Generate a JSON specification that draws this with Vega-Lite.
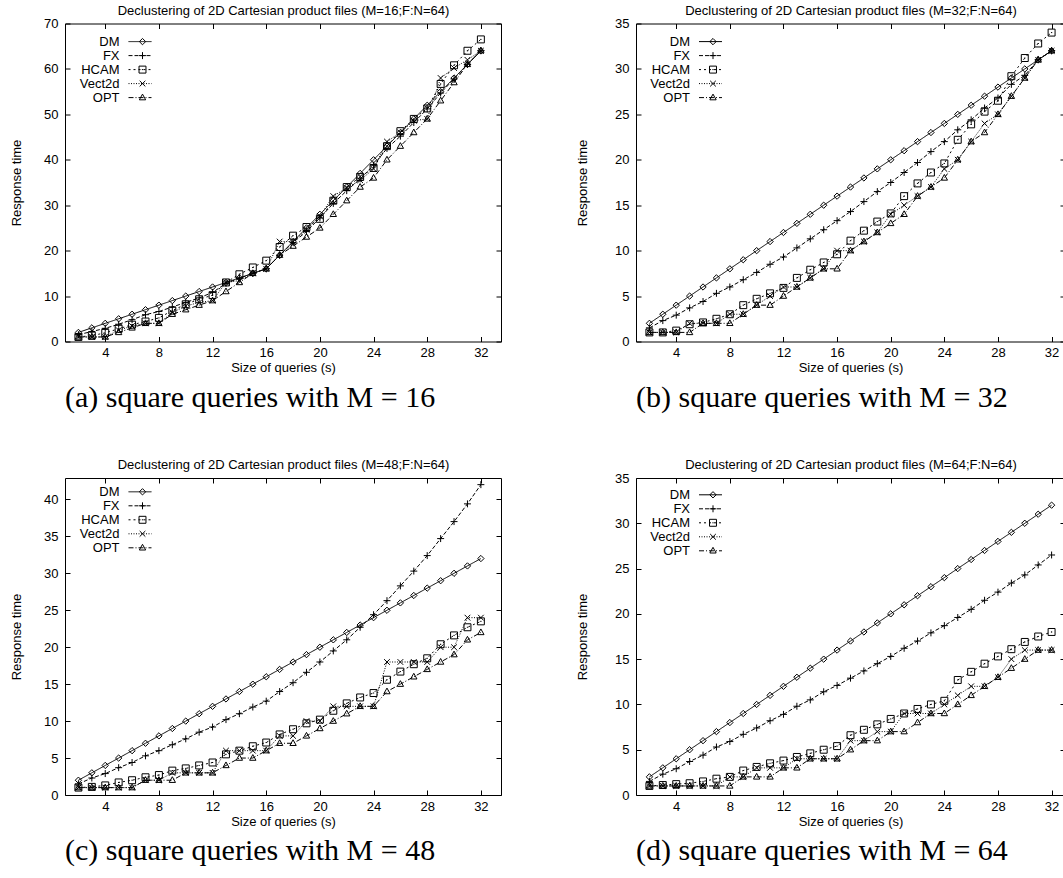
{
"$schema": "https://vega.github.io/schema/vega-lite/v6.json",
"background": "white",
"padding": {"left": 9, "top": 3.5, "right": 0, "bottom": 0},
"datasets": {
"a": [
{"s":2,"g":"DM","t":2},{"s":3,"g":"DM","t":3},{"s":4,"g":"DM","t":4},{"s":5,"g":"DM","t":5},{"s":6,"g":"DM","t":6},{"s":7,"g":"DM","t":7},{"s":8,"g":"DM","t":8},{"s":9,"g":"DM","t":9},{"s":10,"g":"DM","t":10},{"s":11,"g":"DM","t":11},{"s":12,"g":"DM","t":12},{"s":13,"g":"DM","t":13},{"s":14,"g":"DM","t":14},{"s":15,"g":"DM","t":15},{"s":16,"g":"DM","t":16},{"s":17,"g":"DM","t":19},{"s":18,"g":"DM","t":22},{"s":19,"g":"DM","t":25},{"s":20,"g":"DM","t":28},{"s":21,"g":"DM","t":31},{"s":22,"g":"DM","t":34},{"s":23,"g":"DM","t":37},{"s":24,"g":"DM","t":40},{"s":25,"g":"DM","t":43},{"s":26,"g":"DM","t":46},{"s":27,"g":"DM","t":49},{"s":28,"g":"DM","t":52},{"s":29,"g":"DM","t":55},{"s":30,"g":"DM","t":58},{"s":31,"g":"DM","t":61},{"s":32,"g":"DM","t":64},
{"s":2,"g":"FX","t":1.5},{"s":3,"g":"FX","t":2.2},{"s":4,"g":"FX","t":2.9},{"s":5,"g":"FX","t":3.8},{"s":6,"g":"FX","t":4.8},{"s":7,"g":"FX","t":5.9},{"s":8,"g":"FX","t":6.6},{"s":9,"g":"FX","t":7.6},{"s":10,"g":"FX","t":8.6},{"s":11,"g":"FX","t":9.6},{"s":12,"g":"FX","t":10.8},{"s":13,"g":"FX","t":12.8},{"s":14,"g":"FX","t":13.9},{"s":15,"g":"FX","t":15},{"s":16,"g":"FX","t":16},{"s":17,"g":"FX","t":19},{"s":18,"g":"FX","t":21.8},{"s":19,"g":"FX","t":24.2},{"s":20,"g":"FX","t":27.2},{"s":21,"g":"FX","t":30.4},{"s":22,"g":"FX","t":33.2},{"s":23,"g":"FX","t":35.8},{"s":24,"g":"FX","t":38.8},{"s":25,"g":"FX","t":42.5},{"s":26,"g":"FX","t":45.2},{"s":27,"g":"FX","t":48.2},{"s":28,"g":"FX","t":51.2},{"s":29,"g":"FX","t":54.7},{"s":30,"g":"FX","t":57.8},{"s":31,"g":"FX","t":61},{"s":32,"g":"FX","t":64},
{"s":2,"g":"HCAM","t":1},{"s":3,"g":"HCAM","t":1.3},{"s":4,"g":"HCAM","t":1.9},{"s":5,"g":"HCAM","t":2.8},{"s":6,"g":"HCAM","t":3.7},{"s":7,"g":"HCAM","t":4.4},{"s":8,"g":"HCAM","t":5.2},{"s":9,"g":"HCAM","t":6.8},{"s":10,"g":"HCAM","t":8.2},{"s":11,"g":"HCAM","t":9.3},{"s":12,"g":"HCAM","t":10.2},{"s":13,"g":"HCAM","t":13},{"s":14,"g":"HCAM","t":14.8},{"s":15,"g":"HCAM","t":16.3},{"s":16,"g":"HCAM","t":17.8},{"s":17,"g":"HCAM","t":20.8},{"s":18,"g":"HCAM","t":23.3},{"s":19,"g":"HCAM","t":25.2},{"s":20,"g":"HCAM","t":27},{"s":21,"g":"HCAM","t":31},{"s":22,"g":"HCAM","t":34},{"s":23,"g":"HCAM","t":36.2},{"s":24,"g":"HCAM","t":38.2},{"s":25,"g":"HCAM","t":43},{"s":26,"g":"HCAM","t":46.3},{"s":27,"g":"HCAM","t":49},{"s":28,"g":"HCAM","t":51.3},{"s":29,"g":"HCAM","t":56.7},{"s":30,"g":"HCAM","t":60.8},{"s":31,"g":"HCAM","t":64},{"s":32,"g":"HCAM","t":66.5},
{"s":2,"g":"Vect2d","t":1},{"s":3,"g":"Vect2d","t":1},{"s":4,"g":"Vect2d","t":1},{"s":5,"g":"Vect2d","t":2.5},{"s":6,"g":"Vect2d","t":3.4},{"s":7,"g":"Vect2d","t":4},{"s":8,"g":"Vect2d","t":4},{"s":9,"g":"Vect2d","t":6.4},{"s":10,"g":"Vect2d","t":7.8},{"s":11,"g":"Vect2d","t":8.6},{"s":12,"g":"Vect2d","t":9},{"s":13,"g":"Vect2d","t":13},{"s":14,"g":"Vect2d","t":13.4},{"s":15,"g":"Vect2d","t":15},{"s":16,"g":"Vect2d","t":16},{"s":17,"g":"Vect2d","t":22},{"s":18,"g":"Vect2d","t":22},{"s":19,"g":"Vect2d","t":24.6},{"s":20,"g":"Vect2d","t":27.6},{"s":21,"g":"Vect2d","t":32},{"s":22,"g":"Vect2d","t":33.8},{"s":23,"g":"Vect2d","t":35.5},{"s":24,"g":"Vect2d","t":38},{"s":25,"g":"Vect2d","t":44},{"s":26,"g":"Vect2d","t":46},{"s":27,"g":"Vect2d","t":48.6},{"s":28,"g":"Vect2d","t":49},{"s":29,"g":"Vect2d","t":58},{"s":30,"g":"Vect2d","t":60.2},{"s":31,"g":"Vect2d","t":62},{"s":32,"g":"Vect2d","t":64},
{"s":2,"g":"OPT","t":1},{"s":3,"g":"OPT","t":1},{"s":4,"g":"OPT","t":1},{"s":5,"g":"OPT","t":2},{"s":6,"g":"OPT","t":3},{"s":7,"g":"OPT","t":4},{"s":8,"g":"OPT","t":4},{"s":9,"g":"OPT","t":6},{"s":10,"g":"OPT","t":7},{"s":11,"g":"OPT","t":8},{"s":12,"g":"OPT","t":9},{"s":13,"g":"OPT","t":11},{"s":14,"g":"OPT","t":13},{"s":15,"g":"OPT","t":15},{"s":16,"g":"OPT","t":16},{"s":17,"g":"OPT","t":19},{"s":18,"g":"OPT","t":21},{"s":19,"g":"OPT","t":23},{"s":20,"g":"OPT","t":25},{"s":21,"g":"OPT","t":28},{"s":22,"g":"OPT","t":31},{"s":23,"g":"OPT","t":34},{"s":24,"g":"OPT","t":36},{"s":25,"g":"OPT","t":40},{"s":26,"g":"OPT","t":43},{"s":27,"g":"OPT","t":46},{"s":28,"g":"OPT","t":49},{"s":29,"g":"OPT","t":53},{"s":30,"g":"OPT","t":57},{"s":31,"g":"OPT","t":61},{"s":32,"g":"OPT","t":64}
],
"b": [
{"s":2,"g":"DM","t":2},{"s":3,"g":"DM","t":3},{"s":4,"g":"DM","t":4},{"s":5,"g":"DM","t":5},{"s":6,"g":"DM","t":6},{"s":7,"g":"DM","t":7},{"s":8,"g":"DM","t":8},{"s":9,"g":"DM","t":9},{"s":10,"g":"DM","t":10},{"s":11,"g":"DM","t":11},{"s":12,"g":"DM","t":12},{"s":13,"g":"DM","t":13},{"s":14,"g":"DM","t":14},{"s":15,"g":"DM","t":15},{"s":16,"g":"DM","t":16},{"s":17,"g":"DM","t":17},{"s":18,"g":"DM","t":18},{"s":19,"g":"DM","t":19},{"s":20,"g":"DM","t":20},{"s":21,"g":"DM","t":21},{"s":22,"g":"DM","t":22},{"s":23,"g":"DM","t":23},{"s":24,"g":"DM","t":24},{"s":25,"g":"DM","t":25},{"s":26,"g":"DM","t":26},{"s":27,"g":"DM","t":27},{"s":28,"g":"DM","t":28},{"s":29,"g":"DM","t":29},{"s":30,"g":"DM","t":30},{"s":31,"g":"DM","t":31},{"s":32,"g":"DM","t":32},
{"s":2,"g":"FX","t":1.5},{"s":3,"g":"FX","t":2.3},{"s":4,"g":"FX","t":2.9},{"s":5,"g":"FX","t":3.7},{"s":6,"g":"FX","t":4.4},{"s":7,"g":"FX","t":5.3},{"s":8,"g":"FX","t":6},{"s":9,"g":"FX","t":6.8},{"s":10,"g":"FX","t":7.6},{"s":11,"g":"FX","t":8.5},{"s":12,"g":"FX","t":9.3},{"s":13,"g":"FX","t":10.3},{"s":14,"g":"FX","t":11.3},{"s":15,"g":"FX","t":12.3},{"s":16,"g":"FX","t":13.3},{"s":17,"g":"FX","t":14.3},{"s":18,"g":"FX","t":15.4},{"s":19,"g":"FX","t":16.5},{"s":20,"g":"FX","t":17.5},{"s":21,"g":"FX","t":18.6},{"s":22,"g":"FX","t":19.7},{"s":23,"g":"FX","t":20.9},{"s":24,"g":"FX","t":22},{"s":25,"g":"FX","t":23.3},{"s":26,"g":"FX","t":24.4},{"s":27,"g":"FX","t":25.7},{"s":28,"g":"FX","t":26.8},{"s":29,"g":"FX","t":28.3},{"s":30,"g":"FX","t":29.3},{"s":31,"g":"FX","t":31},{"s":32,"g":"FX","t":32},
{"s":2,"g":"HCAM","t":1},{"s":3,"g":"HCAM","t":1},{"s":4,"g":"HCAM","t":1.2},{"s":5,"g":"HCAM","t":1.9},{"s":6,"g":"HCAM","t":2.1},{"s":7,"g":"HCAM","t":2.5},{"s":8,"g":"HCAM","t":3},{"s":9,"g":"HCAM","t":4},{"s":10,"g":"HCAM","t":4.7},{"s":11,"g":"HCAM","t":5.3},{"s":12,"g":"HCAM","t":5.9},{"s":13,"g":"HCAM","t":7},{"s":14,"g":"HCAM","t":7.9},{"s":15,"g":"HCAM","t":8.7},{"s":16,"g":"HCAM","t":9.6},{"s":17,"g":"HCAM","t":11.1},{"s":18,"g":"HCAM","t":12.2},{"s":19,"g":"HCAM","t":13.2},{"s":20,"g":"HCAM","t":14.1},{"s":21,"g":"HCAM","t":16},{"s":22,"g":"HCAM","t":17.4},{"s":23,"g":"HCAM","t":18.6},{"s":24,"g":"HCAM","t":19.6},{"s":25,"g":"HCAM","t":22.2},{"s":26,"g":"HCAM","t":23.9},{"s":27,"g":"HCAM","t":25.3},{"s":28,"g":"HCAM","t":26.5},{"s":29,"g":"HCAM","t":29.2},{"s":30,"g":"HCAM","t":31.2},{"s":31,"g":"HCAM","t":32.8},{"s":32,"g":"HCAM","t":34},
{"s":2,"g":"Vect2d","t":1},{"s":3,"g":"Vect2d","t":1},{"s":4,"g":"Vect2d","t":1},{"s":5,"g":"Vect2d","t":2},{"s":6,"g":"Vect2d","t":2},{"s":7,"g":"Vect2d","t":2},{"s":8,"g":"Vect2d","t":3},{"s":9,"g":"Vect2d","t":3},{"s":10,"g":"Vect2d","t":4},{"s":11,"g":"Vect2d","t":5},{"s":12,"g":"Vect2d","t":6},{"s":13,"g":"Vect2d","t":6},{"s":14,"g":"Vect2d","t":7},{"s":15,"g":"Vect2d","t":8},{"s":16,"g":"Vect2d","t":10},{"s":17,"g":"Vect2d","t":10},{"s":18,"g":"Vect2d","t":11},{"s":19,"g":"Vect2d","t":12},{"s":20,"g":"Vect2d","t":14},{"s":21,"g":"Vect2d","t":15},{"s":22,"g":"Vect2d","t":16},{"s":23,"g":"Vect2d","t":17},{"s":24,"g":"Vect2d","t":19},{"s":25,"g":"Vect2d","t":20},{"s":26,"g":"Vect2d","t":22},{"s":27,"g":"Vect2d","t":24},{"s":28,"g":"Vect2d","t":25},{"s":29,"g":"Vect2d","t":27},{"s":30,"g":"Vect2d","t":29},{"s":31,"g":"Vect2d","t":31},{"s":32,"g":"Vect2d","t":32},
{"s":2,"g":"OPT","t":1},{"s":3,"g":"OPT","t":1},{"s":4,"g":"OPT","t":1},{"s":5,"g":"OPT","t":1},{"s":6,"g":"OPT","t":2},{"s":7,"g":"OPT","t":2},{"s":8,"g":"OPT","t":2},{"s":9,"g":"OPT","t":3},{"s":10,"g":"OPT","t":4},{"s":11,"g":"OPT","t":4},{"s":12,"g":"OPT","t":5},{"s":13,"g":"OPT","t":6},{"s":14,"g":"OPT","t":7},{"s":15,"g":"OPT","t":8},{"s":16,"g":"OPT","t":8},{"s":17,"g":"OPT","t":10},{"s":18,"g":"OPT","t":11},{"s":19,"g":"OPT","t":12},{"s":20,"g":"OPT","t":13},{"s":21,"g":"OPT","t":14},{"s":22,"g":"OPT","t":16},{"s":23,"g":"OPT","t":17},{"s":24,"g":"OPT","t":18},{"s":25,"g":"OPT","t":20},{"s":26,"g":"OPT","t":22},{"s":27,"g":"OPT","t":23},{"s":28,"g":"OPT","t":25},{"s":29,"g":"OPT","t":27},{"s":30,"g":"OPT","t":29},{"s":31,"g":"OPT","t":31},{"s":32,"g":"OPT","t":32}
],
"c": [
{"s":2,"g":"DM","t":2},{"s":3,"g":"DM","t":3},{"s":4,"g":"DM","t":4},{"s":5,"g":"DM","t":5},{"s":6,"g":"DM","t":6},{"s":7,"g":"DM","t":7},{"s":8,"g":"DM","t":8},{"s":9,"g":"DM","t":9},{"s":10,"g":"DM","t":10},{"s":11,"g":"DM","t":11},{"s":12,"g":"DM","t":12},{"s":13,"g":"DM","t":13},{"s":14,"g":"DM","t":14},{"s":15,"g":"DM","t":15},{"s":16,"g":"DM","t":16},{"s":17,"g":"DM","t":17},{"s":18,"g":"DM","t":18},{"s":19,"g":"DM","t":19},{"s":20,"g":"DM","t":20},{"s":21,"g":"DM","t":21},{"s":22,"g":"DM","t":22},{"s":23,"g":"DM","t":23},{"s":24,"g":"DM","t":24},{"s":25,"g":"DM","t":25},{"s":26,"g":"DM","t":26},{"s":27,"g":"DM","t":27},{"s":28,"g":"DM","t":28},{"s":29,"g":"DM","t":29},{"s":30,"g":"DM","t":30},{"s":31,"g":"DM","t":31},{"s":32,"g":"DM","t":32},
{"s":2,"g":"FX","t":1.5},{"s":3,"g":"FX","t":2.3},{"s":4,"g":"FX","t":2.9},{"s":5,"g":"FX","t":3.7},{"s":6,"g":"FX","t":4.4},{"s":7,"g":"FX","t":5.3},{"s":8,"g":"FX","t":6},{"s":9,"g":"FX","t":6.8},{"s":10,"g":"FX","t":7.6},{"s":11,"g":"FX","t":8.5},{"s":12,"g":"FX","t":9.2},{"s":13,"g":"FX","t":10.2},{"s":14,"g":"FX","t":11},{"s":15,"g":"FX","t":11.9},{"s":16,"g":"FX","t":12.7},{"s":17,"g":"FX","t":14},{"s":18,"g":"FX","t":15.2},{"s":19,"g":"FX","t":16.6},{"s":20,"g":"FX","t":18},{"s":21,"g":"FX","t":19.5},{"s":22,"g":"FX","t":21},{"s":23,"g":"FX","t":22.7},{"s":24,"g":"FX","t":24.4},{"s":25,"g":"FX","t":26.3},{"s":26,"g":"FX","t":28.3},{"s":27,"g":"FX","t":30.3},{"s":28,"g":"FX","t":32.4},{"s":29,"g":"FX","t":34.7},{"s":30,"g":"FX","t":37},{"s":31,"g":"FX","t":39.4},{"s":32,"g":"FX","t":42},
{"s":2,"g":"HCAM","t":1},{"s":3,"g":"HCAM","t":1.1},{"s":4,"g":"HCAM","t":1.3},{"s":5,"g":"HCAM","t":1.7},{"s":6,"g":"HCAM","t":2},{"s":7,"g":"HCAM","t":2.4},{"s":8,"g":"HCAM","t":2.7},{"s":9,"g":"HCAM","t":3.3},{"s":10,"g":"HCAM","t":3.6},{"s":11,"g":"HCAM","t":4},{"s":12,"g":"HCAM","t":4.4},{"s":13,"g":"HCAM","t":5.5},{"s":14,"g":"HCAM","t":6},{"s":15,"g":"HCAM","t":6.6},{"s":16,"g":"HCAM","t":7.1},{"s":17,"g":"HCAM","t":8.2},{"s":18,"g":"HCAM","t":8.9},{"s":19,"g":"HCAM","t":9.7},{"s":20,"g":"HCAM","t":10.2},{"s":21,"g":"HCAM","t":11.4},{"s":22,"g":"HCAM","t":12.4},{"s":23,"g":"HCAM","t":13.2},{"s":24,"g":"HCAM","t":13.8},{"s":25,"g":"HCAM","t":15.6},{"s":26,"g":"HCAM","t":16.7},{"s":27,"g":"HCAM","t":17.7},{"s":28,"g":"HCAM","t":18.5},{"s":29,"g":"HCAM","t":20.4},{"s":30,"g":"HCAM","t":21.6},{"s":31,"g":"HCAM","t":22.7},{"s":32,"g":"HCAM","t":23.5},
{"s":2,"g":"Vect2d","t":1},{"s":3,"g":"Vect2d","t":1},{"s":4,"g":"Vect2d","t":1},{"s":5,"g":"Vect2d","t":1},{"s":6,"g":"Vect2d","t":1},{"s":7,"g":"Vect2d","t":2},{"s":8,"g":"Vect2d","t":2},{"s":9,"g":"Vect2d","t":3},{"s":10,"g":"Vect2d","t":3},{"s":11,"g":"Vect2d","t":3},{"s":12,"g":"Vect2d","t":3},{"s":13,"g":"Vect2d","t":6},{"s":14,"g":"Vect2d","t":6},{"s":15,"g":"Vect2d","t":6},{"s":16,"g":"Vect2d","t":6},{"s":17,"g":"Vect2d","t":8},{"s":18,"g":"Vect2d","t":8},{"s":19,"g":"Vect2d","t":10},{"s":20,"g":"Vect2d","t":10},{"s":21,"g":"Vect2d","t":12},{"s":22,"g":"Vect2d","t":12},{"s":23,"g":"Vect2d","t":12},{"s":24,"g":"Vect2d","t":12},{"s":25,"g":"Vect2d","t":18},{"s":26,"g":"Vect2d","t":18},{"s":27,"g":"Vect2d","t":18},{"s":28,"g":"Vect2d","t":18},{"s":29,"g":"Vect2d","t":20},{"s":30,"g":"Vect2d","t":20},{"s":31,"g":"Vect2d","t":24},{"s":32,"g":"Vect2d","t":24},
{"s":2,"g":"OPT","t":1},{"s":3,"g":"OPT","t":1},{"s":4,"g":"OPT","t":1},{"s":5,"g":"OPT","t":1},{"s":6,"g":"OPT","t":1},{"s":7,"g":"OPT","t":2},{"s":8,"g":"OPT","t":2},{"s":9,"g":"OPT","t":2},{"s":10,"g":"OPT","t":3},{"s":11,"g":"OPT","t":3},{"s":12,"g":"OPT","t":3},{"s":13,"g":"OPT","t":4},{"s":14,"g":"OPT","t":5},{"s":15,"g":"OPT","t":5},{"s":16,"g":"OPT","t":6},{"s":17,"g":"OPT","t":7},{"s":18,"g":"OPT","t":7},{"s":19,"g":"OPT","t":8},{"s":20,"g":"OPT","t":9},{"s":21,"g":"OPT","t":10},{"s":22,"g":"OPT","t":11},{"s":23,"g":"OPT","t":12},{"s":24,"g":"OPT","t":12},{"s":25,"g":"OPT","t":14},{"s":26,"g":"OPT","t":15},{"s":27,"g":"OPT","t":16},{"s":28,"g":"OPT","t":17},{"s":29,"g":"OPT","t":18},{"s":30,"g":"OPT","t":19},{"s":31,"g":"OPT","t":21},{"s":32,"g":"OPT","t":22}
],
"d": [
{"s":2,"g":"DM","t":2},{"s":3,"g":"DM","t":3},{"s":4,"g":"DM","t":4},{"s":5,"g":"DM","t":5},{"s":6,"g":"DM","t":6},{"s":7,"g":"DM","t":7},{"s":8,"g":"DM","t":8},{"s":9,"g":"DM","t":9},{"s":10,"g":"DM","t":10},{"s":11,"g":"DM","t":11},{"s":12,"g":"DM","t":12},{"s":13,"g":"DM","t":13},{"s":14,"g":"DM","t":14},{"s":15,"g":"DM","t":15},{"s":16,"g":"DM","t":16},{"s":17,"g":"DM","t":17},{"s":18,"g":"DM","t":18},{"s":19,"g":"DM","t":19},{"s":20,"g":"DM","t":20},{"s":21,"g":"DM","t":21},{"s":22,"g":"DM","t":22},{"s":23,"g":"DM","t":23},{"s":24,"g":"DM","t":24},{"s":25,"g":"DM","t":25},{"s":26,"g":"DM","t":26},{"s":27,"g":"DM","t":27},{"s":28,"g":"DM","t":28},{"s":29,"g":"DM","t":29},{"s":30,"g":"DM","t":30},{"s":31,"g":"DM","t":31},{"s":32,"g":"DM","t":32},
{"s":2,"g":"FX","t":1.5},{"s":3,"g":"FX","t":2.3},{"s":4,"g":"FX","t":2.9},{"s":5,"g":"FX","t":3.7},{"s":6,"g":"FX","t":4.4},{"s":7,"g":"FX","t":5.3},{"s":8,"g":"FX","t":5.9},{"s":9,"g":"FX","t":6.7},{"s":10,"g":"FX","t":7.4},{"s":11,"g":"FX","t":8.2},{"s":12,"g":"FX","t":8.9},{"s":13,"g":"FX","t":9.8},{"s":14,"g":"FX","t":10.5},{"s":15,"g":"FX","t":11.4},{"s":16,"g":"FX","t":12.1},{"s":17,"g":"FX","t":12.9},{"s":18,"g":"FX","t":13.7},{"s":19,"g":"FX","t":14.5},{"s":20,"g":"FX","t":15.3},{"s":21,"g":"FX","t":16.2},{"s":22,"g":"FX","t":17},{"s":23,"g":"FX","t":17.9},{"s":24,"g":"FX","t":18.7},{"s":25,"g":"FX","t":19.6},{"s":26,"g":"FX","t":20.5},{"s":27,"g":"FX","t":21.5},{"s":28,"g":"FX","t":22.4},{"s":29,"g":"FX","t":23.4},{"s":30,"g":"FX","t":24.3},{"s":31,"g":"FX","t":25.4},{"s":32,"g":"FX","t":26.5},
{"s":2,"g":"HCAM","t":1},{"s":3,"g":"HCAM","t":1.1},{"s":4,"g":"HCAM","t":1.2},{"s":5,"g":"HCAM","t":1.3},{"s":6,"g":"HCAM","t":1.5},{"s":7,"g":"HCAM","t":1.8},{"s":8,"g":"HCAM","t":2},{"s":9,"g":"HCAM","t":2.7},{"s":10,"g":"HCAM","t":3.1},{"s":11,"g":"HCAM","t":3.5},{"s":12,"g":"HCAM","t":3.8},{"s":13,"g":"HCAM","t":4.2},{"s":14,"g":"HCAM","t":4.6},{"s":15,"g":"HCAM","t":5},{"s":16,"g":"HCAM","t":5.4},{"s":17,"g":"HCAM","t":6.6},{"s":18,"g":"HCAM","t":7.2},{"s":19,"g":"HCAM","t":7.8},{"s":20,"g":"HCAM","t":8.4},{"s":21,"g":"HCAM","t":9},{"s":22,"g":"HCAM","t":9.5},{"s":23,"g":"HCAM","t":10},{"s":24,"g":"HCAM","t":10.4},{"s":25,"g":"HCAM","t":12.7},{"s":26,"g":"HCAM","t":13.6},{"s":27,"g":"HCAM","t":14.5},{"s":28,"g":"HCAM","t":15.3},{"s":29,"g":"HCAM","t":16.1},{"s":30,"g":"HCAM","t":16.9},{"s":31,"g":"HCAM","t":17.5},{"s":32,"g":"HCAM","t":18},
{"s":2,"g":"Vect2d","t":1},{"s":3,"g":"Vect2d","t":1},{"s":4,"g":"Vect2d","t":1},{"s":5,"g":"Vect2d","t":1},{"s":6,"g":"Vect2d","t":1},{"s":7,"g":"Vect2d","t":1},{"s":8,"g":"Vect2d","t":2},{"s":9,"g":"Vect2d","t":2},{"s":10,"g":"Vect2d","t":3},{"s":11,"g":"Vect2d","t":3},{"s":12,"g":"Vect2d","t":3},{"s":13,"g":"Vect2d","t":4},{"s":14,"g":"Vect2d","t":4},{"s":15,"g":"Vect2d","t":4},{"s":16,"g":"Vect2d","t":4},{"s":17,"g":"Vect2d","t":6},{"s":18,"g":"Vect2d","t":6},{"s":19,"g":"Vect2d","t":7},{"s":20,"g":"Vect2d","t":7},{"s":21,"g":"Vect2d","t":9},{"s":22,"g":"Vect2d","t":9},{"s":23,"g":"Vect2d","t":9},{"s":24,"g":"Vect2d","t":10},{"s":25,"g":"Vect2d","t":11},{"s":26,"g":"Vect2d","t":12},{"s":27,"g":"Vect2d","t":12},{"s":28,"g":"Vect2d","t":13},{"s":29,"g":"Vect2d","t":15},{"s":30,"g":"Vect2d","t":16},{"s":31,"g":"Vect2d","t":16},{"s":32,"g":"Vect2d","t":16},
{"s":2,"g":"OPT","t":1},{"s":3,"g":"OPT","t":1},{"s":4,"g":"OPT","t":1},{"s":5,"g":"OPT","t":1},{"s":6,"g":"OPT","t":1},{"s":7,"g":"OPT","t":1},{"s":8,"g":"OPT","t":1},{"s":9,"g":"OPT","t":2},{"s":10,"g":"OPT","t":2},{"s":11,"g":"OPT","t":2},{"s":12,"g":"OPT","t":3},{"s":13,"g":"OPT","t":3},{"s":14,"g":"OPT","t":4},{"s":15,"g":"OPT","t":4},{"s":16,"g":"OPT","t":4},{"s":17,"g":"OPT","t":5},{"s":18,"g":"OPT","t":6},{"s":19,"g":"OPT","t":6},{"s":20,"g":"OPT","t":7},{"s":21,"g":"OPT","t":7},{"s":22,"g":"OPT","t":8},{"s":23,"g":"OPT","t":9},{"s":24,"g":"OPT","t":9},{"s":25,"g":"OPT","t":10},{"s":26,"g":"OPT","t":11},{"s":27,"g":"OPT","t":12},{"s":28,"g":"OPT","t":13},{"s":29,"g":"OPT","t":14},{"s":30,"g":"OPT","t":15},{"s":31,"g":"OPT","t":16},{"s":32,"g":"OPT","t":16}
]
},
"vconcat": [
{"hconcat": [
{"width": 436, "height": 318, "data": {"name": "a"},
 "title": {"text": "(a) square queries with M = 16", "orient": "bottom", "anchor": "start", "frame": "group", "offset": 8},
 "layer": [
  {"mark": {"type": "line", "color": "#000", "strokeWidth": 1},
   "encoding": {
    "x": {"field": "s", "type": "quantitative", "scale": {"domain": [1, 33.5], "nice": false, "zero": false}, "axis": {"orient": "bottom", "values": [4,8,12,16,20,24,28,32], "labelPadding": 10, "title": "Size of queries (s)", "titlePadding": 2}},
    "y": {"field": "t", "type": "quantitative", "scale": {"domain": [0, 70], "nice": false, "zero": false}, "axis": {"orient": "left", "values": [0,10,20,30,40,50,60,70], "labelPadding": 12, "title": "Response time", "titlePadding": 20.5}},
    "strokeDash": {"field": "g", "type": "nominal", "scale": {"domain": ["DM","FX","HCAM","Vect2d","OPT"], "range": [[1,0],[4,2],[2,3],[1,1.5],[5,2,1,2]]},
      "legend": {"orient": "none", "legendX": 68.5, "legendY": 11.6, "title": null, "symbolType": "M-2,0L2,0", "symbolSize": 132, "symbolStrokeWidth": 1, "symbolStrokeColor": "#000", "labelAlign": "right", "labelOffset": -27}}
   }},
  {"mark": {"type": "point", "filled": false, "color": "#000", "strokeWidth": 1, "opacity": 1, "size": 40},
   "encoding": {
    "x": {"field": "s", "type": "quantitative", "axis": {"orient": "top", "values": [4,8,12,16,20,24,28,32], "labels": false, "title": "Declustering of 2D Cartesian product files (M=16;F:N=64)", "titlePadding": 6}},
    "y": {"field": "t", "type": "quantitative", "axis": {"orient": "right", "values": [0,10,20,30,40,50,60,70], "labels": false, "title": null}},
    "shape": {"field": "g", "type": "nominal", "scale": {"domain": ["DM","FX","HCAM","Vect2d","OPT","-"], "range": ["M-1,0L0,-1L1,0L0,1Z","M-1.1,0L1.1,0M0,-1.1L0,1.1","M-1.1,-1.1L1.1,-1.1L1.1,1.1L-1.1,1.1ZM-0.2,0L0.2,0","M-0.9,-0.9L0.9,0.9M-0.9,0.9L0.9,-0.9","M0,-1.1L1,0.7L-1,0.7Z","circle"]},
      "legend": {"orient": "none", "legendX": 71, "legendY": 11.6, "title": null, "values": ["DM","FX","HCAM","Vect2d","OPT"], "symbolSize": 40, "symbolStrokeWidth": 1, "symbolStrokeColor": "#000", "symbolFillColor": "transparent", "labelOpacity": 0}}
   }}
 ],
 "resolve": {"axis": {"x": "independent", "y": "independent"}}
},
{"width": 429, "height": 318, "data": {"name": "b"},
 "title": {"text": "(b) square queries with M = 32", "orient": "bottom", "anchor": "start", "frame": "group", "offset": 8},
 "layer": [
  {"mark": {"type": "line", "color": "#000", "strokeWidth": 1},
   "encoding": {
    "x": {"field": "s", "type": "quantitative", "scale": {"domain": [1, 33], "nice": false, "zero": false}, "axis": {"orient": "bottom", "values": [4,8,12,16,20,24,28,32], "labelPadding": 10, "title": "Size of queries (s)", "titlePadding": 2}},
    "y": {"field": "t", "type": "quantitative", "scale": {"domain": [0, 35], "nice": false, "zero": false}, "axis": {"orient": "left", "values": [0,5,10,15,20,25,30,35], "labelPadding": 12, "title": "Response time", "titlePadding": 25}},
    "strokeDash": {"field": "g", "type": "nominal", "scale": {"domain": ["DM","FX","HCAM","Vect2d","OPT"], "range": [[1,0],[4,2],[2,3],[1,1.5],[5,2,1,2]]},
      "legend": {"orient": "none", "legendX": 68, "legendY": 11.6, "title": null, "symbolType": "M-2,0L2,0", "symbolSize": 132, "symbolStrokeWidth": 1, "symbolStrokeColor": "#000", "labelAlign": "right", "labelOffset": -27}}
   }},
  {"mark": {"type": "point", "filled": false, "color": "#000", "strokeWidth": 1, "opacity": 1, "size": 40},
   "encoding": {
    "x": {"field": "s", "type": "quantitative", "axis": {"orient": "top", "values": [4,8,12,16,20,24,28,32], "labels": false, "title": "Declustering of 2D Cartesian product files (M=32;F:N=64)", "titlePadding": 6}},
    "y": {"field": "t", "type": "quantitative", "axis": {"orient": "right", "values": [0,5,10,15,20,25,30,35], "labels": false, "title": null}},
    "shape": {"field": "g", "type": "nominal", "scale": {"domain": ["DM","FX","HCAM","Vect2d","OPT","-"], "range": ["M-1,0L0,-1L1,0L0,1Z","M-1.1,0L1.1,0M0,-1.1L0,1.1","M-1.1,-1.1L1.1,-1.1L1.1,1.1L-1.1,1.1ZM-0.2,0L0.2,0","M-0.9,-0.9L0.9,0.9M-0.9,0.9L0.9,-0.9","M0,-1.1L1,0.7L-1,0.7Z","circle"]},
      "legend": {"orient": "none", "legendX": 70.5, "legendY": 11.6, "title": null, "values": ["DM","FX","HCAM","Vect2d","OPT"], "symbolSize": 40, "symbolStrokeWidth": 1, "symbolStrokeColor": "#000", "symbolFillColor": "transparent", "labelOpacity": 0}}
   }}
 ],
 "resolve": {"axis": {"x": "independent", "y": "independent"}}
}
], "spacing": 74, "resolve": {"scale": {"strokeDash": "independent", "shape": "independent"}}},
{"hconcat": [
{"width": 436, "height": 317, "data": {"name": "c"},
 "title": {"text": "(c) square queries with M = 48", "orient": "bottom", "anchor": "start", "frame": "group", "offset": 8},
 "layer": [
  {"mark": {"type": "line", "color": "#000", "strokeWidth": 1},
   "encoding": {
    "x": {"field": "s", "type": "quantitative", "scale": {"domain": [1, 33.5], "nice": false, "zero": false}, "axis": {"orient": "bottom", "values": [4,8,12,16,20,24,28,32], "labelPadding": 10, "title": "Size of queries (s)", "titlePadding": 2}},
    "y": {"field": "t", "type": "quantitative", "scale": {"domain": [0, 42.9], "nice": false, "zero": false}, "axis": {"orient": "left", "values": [0,5,10,15,20,25,30,35,40], "labelPadding": 12, "title": "Response time", "titlePadding": 20.5}},
    "strokeDash": {"field": "g", "type": "nominal", "scale": {"domain": ["DM","FX","HCAM","Vect2d","OPT"], "range": [[1,0],[4,2],[2,3],[1,1.5],[5,2,1,2]]},
      "legend": {"orient": "none", "legendX": 68.5, "legendY": 7.3, "title": null, "symbolType": "M-2,0L2,0", "symbolSize": 132, "symbolStrokeWidth": 1, "symbolStrokeColor": "#000", "labelAlign": "right", "labelOffset": -27}}
   }},
  {"mark": {"type": "point", "filled": false, "color": "#000", "strokeWidth": 1, "opacity": 1, "size": 40},
   "encoding": {
    "x": {"field": "s", "type": "quantitative", "axis": {"orient": "top", "values": [4,8,12,16,20,24,28,32], "labels": false, "title": "Declustering of 2D Cartesian product files (M=48;F:N=64)", "titlePadding": 6}},
    "y": {"field": "t", "type": "quantitative", "axis": {"orient": "right", "values": [0,5,10,15,20,25,30,35,40], "labels": false, "title": null}},
    "shape": {"field": "g", "type": "nominal", "scale": {"domain": ["DM","FX","HCAM","Vect2d","OPT","-"], "range": ["M-1,0L0,-1L1,0L0,1Z","M-1.1,0L1.1,0M0,-1.1L0,1.1","M-1.1,-1.1L1.1,-1.1L1.1,1.1L-1.1,1.1ZM-0.2,0L0.2,0","M-0.9,-0.9L0.9,0.9M-0.9,0.9L0.9,-0.9","M0,-1.1L1,0.7L-1,0.7Z","circle"]},
      "legend": {"orient": "none", "legendX": 71, "legendY": 7.3, "title": null, "values": ["DM","FX","HCAM","Vect2d","OPT"], "symbolSize": 40, "symbolStrokeWidth": 1, "symbolStrokeColor": "#000", "symbolFillColor": "transparent", "labelOpacity": 0}}
   }}
 ],
 "resolve": {"axis": {"x": "independent", "y": "independent"}}
},
{"width": 429, "height": 317, "data": {"name": "d"},
 "title": {"text": "(d) square queries with M = 64", "orient": "bottom", "anchor": "start", "frame": "group", "offset": 8},
 "layer": [
  {"mark": {"type": "line", "color": "#000", "strokeWidth": 1},
   "encoding": {
    "x": {"field": "s", "type": "quantitative", "scale": {"domain": [1, 33], "nice": false, "zero": false}, "axis": {"orient": "bottom", "values": [4,8,12,16,20,24,28,32], "labelPadding": 10, "title": "Size of queries (s)", "titlePadding": 2}},
    "y": {"field": "t", "type": "quantitative", "scale": {"domain": [0, 35], "nice": false, "zero": false}, "axis": {"orient": "left", "values": [0,5,10,15,20,25,30,35], "labelPadding": 12, "title": "Response time", "titlePadding": 25}},
    "strokeDash": {"field": "g", "type": "nominal", "scale": {"domain": ["DM","FX","HCAM","Vect2d","OPT"], "range": [[1,0],[4,2],[2,3],[1,1.5],[5,2,1,2]]},
      "legend": {"orient": "none", "legendX": 68, "legendY": 10.3, "title": null, "symbolType": "M-2,0L2,0", "symbolSize": 132, "symbolStrokeWidth": 1, "symbolStrokeColor": "#000", "labelAlign": "right", "labelOffset": -27}}
   }},
  {"mark": {"type": "point", "filled": false, "color": "#000", "strokeWidth": 1, "opacity": 1, "size": 40},
   "encoding": {
    "x": {"field": "s", "type": "quantitative", "axis": {"orient": "top", "values": [4,8,12,16,20,24,28,32], "labels": false, "title": "Declustering of 2D Cartesian product files (M=64;F:N=64)", "titlePadding": 6}},
    "y": {"field": "t", "type": "quantitative", "axis": {"orient": "right", "values": [0,5,10,15,20,25,30,35], "labels": false, "title": null}},
    "shape": {"field": "g", "type": "nominal", "scale": {"domain": ["DM","FX","HCAM","Vect2d","OPT","-"], "range": ["M-1,0L0,-1L1,0L0,1Z","M-1.1,0L1.1,0M0,-1.1L0,1.1","M-1.1,-1.1L1.1,-1.1L1.1,1.1L-1.1,1.1ZM-0.2,0L0.2,0","M-0.9,-0.9L0.9,0.9M-0.9,0.9L0.9,-0.9","M0,-1.1L1,0.7L-1,0.7Z","circle"]},
      "legend": {"orient": "none", "legendX": 70.5, "legendY": 10.3, "title": null, "values": ["DM","FX","HCAM","Vect2d","OPT"], "symbolSize": 40, "symbolStrokeWidth": 1, "symbolStrokeColor": "#000", "symbolFillColor": "transparent", "labelOpacity": 0}}
   }}
 ],
 "resolve": {"axis": {"x": "independent", "y": "independent"}}
}
], "spacing": 74, "resolve": {"scale": {"strokeDash": "independent", "shape": "independent"}}}
],
"spacing": 44.5,
"resolve": {"scale": {"strokeDash": "independent", "shape": "independent"}},
"config": {
 "view": {"stroke": "#000", "strokeWidth": 1},
 "axis": {"domain": false, "grid": false, "tickSize": -5, "tickColor": "#000", "tickWidth": 1, "labelColor": "#000", "titleColor": "#000", "labelFont": "Liberation Sans", "titleFont": "Liberation Sans", "labelFontSize": 13, "titleFontSize": 13, "titleFontWeight": "normal"},
 "legend": {"labelFont": "Liberation Sans", "labelFontSize": 13, "labelColor": "#000", "rowPadding": -2.05, "padding": 0},
 "title": {"font": "Liberation Serif", "fontSize": 30, "fontWeight": "normal", "color": "#000"}
}
}
